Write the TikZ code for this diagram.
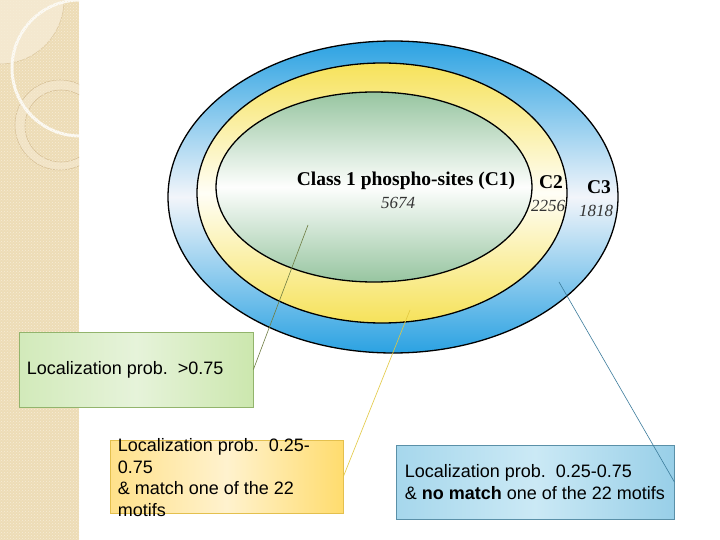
\documentclass[tikz,border=0pt]{standalone}
\usepackage{fontspec}
\setmainfont{Liberation Sans}
\newfontfamily\serifA{Liberation Serif}
\usetikzlibrary{shapes.geometric,patterns}
\definecolor{strip}{HTML}{EDDCB6}
\definecolor{stripdot}{HTML}{F6ECD6}
\definecolor{striplight}{HTML}{F4E8CF}
\definecolor{ringline}{HTML}{D6BF95}
\definecolor{bluetop}{HTML}{2BA2E2}
\definecolor{bluemid}{HTML}{F2F5FA}
\definecolor{yeltop}{HTML}{F6E25A}
\definecolor{yelmid}{HTML}{FFFEF6}
\definecolor{grntop}{HTML}{97C5A0}
\definecolor{grnmid}{HTML}{FDFEFD}
\definecolor{gboxL}{HTML}{D2EABA}
\definecolor{gboxM}{HTML}{E6F3DA}
\definecolor{gboxR}{HTML}{CCE7AE}
\definecolor{gboxB}{HTML}{92B46C}
\definecolor{yboxL}{HTML}{FFE18A}
\definecolor{yboxM}{HTML}{FFF2CE}
\definecolor{yboxR}{HTML}{FFDC6E}
\definecolor{yboxB}{HTML}{E4C04E}
\definecolor{bboxL}{HTML}{A6D7EC}
\definecolor{bboxM}{HTML}{CBE9F5}
\definecolor{bboxR}{HTML}{98CFE8}
\definecolor{bboxB}{HTML}{5A90A8}
\definecolor{conG}{HTML}{6E7C42}
\definecolor{conY}{HTML}{E2C83E}
\definecolor{conB}{HTML}{3C7C9C}
\begin{document}
\begin{tikzpicture}[x=1pt,y=-1pt,
  ring/.style={ellipse, draw=black, line width=1.3pt, inner sep=0pt},
  lblB/.style={font=\serifA\bfseries\fontsize{19.5}{21}\selectfont, inner sep=0pt},
  lblI/.style={font=\serifA\itshape\fontsize{17}{19}\selectfont, inner sep=0pt, text=black!80},
  boxshape/.style={rectangle, inner sep=0pt, line width=0.8pt},
  boxtext/.style={font=\fontsize{18}{21.6}\selectfont, align=left, inner sep=0pt, anchor=west},
  conn/.style={line width=0.6pt}]
\useasboundingbox (0,0) rectangle (720,540);
\fill[white] (0,0) rectangle (720,540);
% left decorative strip
\fill[strip] (0,0) rectangle (79,540);
\begin{scope}
  \clip (0,0) rectangle (79,540);
  \fill[striplight] (0,0) circle[radius=64pt];
  \fill[striplight!60!strip, even odd rule] (60,125) circle[radius=45pt] (61,126) circle[radius=36pt];
  \draw[ringline, line width=0.6pt] (60,125) circle[radius=45pt];
  \draw[ringline, line width=0.6pt] (61,126) circle[radius=36pt];
  \draw[ringline!70!strip, line width=0.6pt] (0,0) circle[radius=64pt];
  \draw[white!85!strip, line width=3pt] (80,68) circle[radius=68pt];
  \fill[pattern=crosshatch dots, pattern color=stripdot] (0,0) rectangle (79,540);
\end{scope}
% nested ellipses
\node[ring, minimum width=450pt, minimum height=312pt, top color=bluetop, bottom color=bluetop, middle color=bluemid] (c3) at (393,197) {};
\node[ring, minimum width=370pt, minimum height=260pt, top color=yeltop, bottom color=yeltop, middle color=yelmid] (c2) at (382,193) {};
\node[ring, minimum width=316pt, minimum height=190pt, top color=grntop, bottom color=grntop, middle color=grnmid] (c1) at (374,187) {};
% labels
\node[lblB] (t1) at (406,181) {Class 1 phospho-sites (C1)};
\node[lblI] (n1) at (398,203) {5674};
\node[lblB] (t2) at (551,182) {C2};
\node[lblI] (n2) at (548,206) {2256};
\node[lblB] (t3) at (599,187) {C3};
\node[lblI] (n3) at (596,211) {1818};
% boxes
\node[boxshape, draw=gboxB, left color=gboxL, right color=gboxR, middle color=gboxM, minimum width=234pt, minimum height=75pt] (gbox) at (136,369.5) {};
\node[boxtext] (gtext) at ([xshift=8pt]gbox.west) {Localization prob.\ \ {>}0.75};
\node[boxshape, draw=yboxB, left color=yboxL, right color=yboxR, middle color=yboxM, minimum width=233pt, minimum height=73pt] (ybox) at (226.5,476.5) {};
\node[boxtext] (ytext) at ([xshift=8pt,yshift=-1pt]ybox.west) {Localization prob.\ \ 0.25-\\0.75\\\& match one of the 22\\motifs};
\node[boxshape, draw=bboxB, left color=bboxL, right color=bboxR, middle color=bboxM, minimum width=278pt, minimum height=74pt] (bbox) at (535,482) {};
\node[boxtext] (btext) at ([xshift=9pt]bbox.west) {Localization prob.\ \ 0.25-0.75\\\& \textbf{no match} one of the 22 motifs};
% connectors
\coordinate (p1) at (308,225);
\coordinate (p2) at (410,310);
\coordinate (p3) at (559,282);
\draw[conn, conG] (gbox.east) -- (p1);
\draw[conn, conY] (ybox.east) -- (p2);
\draw[conn, conB] (bbox.east) -- (p3);
\end{tikzpicture}
\end{document}
